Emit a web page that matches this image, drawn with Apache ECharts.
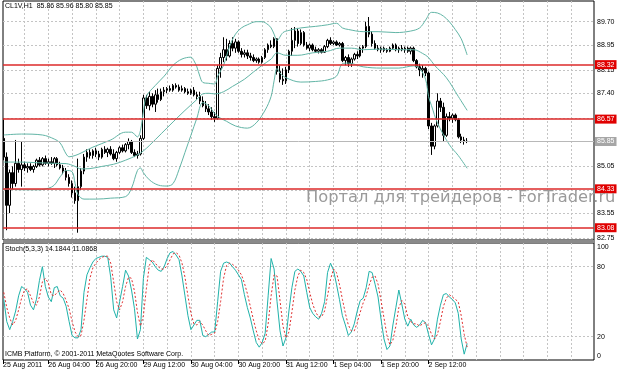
<!DOCTYPE html>
<html><head><meta charset="utf-8">
<script src="https://cdn.jsdelivr.net/npm/echarts@6/dist/echarts.min.js"></script>
<style>html,body{margin:0;padding:0;background:#fff}#c{width:623px;height:373px}</style>
</head><body><div id="c"></div>
<script>
// ---------- data ----------
const headerText = 'CL1V,H1  85.86 85.96 85.80 85.85';
const stochText = 'Stoch(5,3,3) 14.1844 11.0868';
const footerText = 'ICMB Platform, \u00a9 2001-2011 MetaQuotes Software Corp.';
const watermarkText = 'Портал для трейдеров - ForTrader.ru';

const timeLabels = ['25 Aug 2011','26 Aug 04:00','26 Aug 20:00','29 Aug 12:00','30 Aug 04:00','30 Aug 20:00','31 Aug 12:00','1 Sep 04:00','1 Sep 20:00','2 Sep 12:00'];
const labelBars = [0,16,32,48,64,80,96,112,128,144];
const gridBars = [8,16,24,32,40,48,56,64,72,80,88,96,104,112,120,128,136,144,152,160,168,176,184,192];
const priceTicks = [82.75,83.55,84.30,85.05,85.85,86.60,87.40,88.15,88.95,89.70];
const priceLevels = [88.32,86.57,84.33,83.08];
const bidPrice = 85.85;
const stochLevels = [20,80];
const firstBar = 1;

const open = [85.95,85.35,83.80,84.85,84.50,85.15,84.95,85.10,85.00,85.05,
84.95,85.05,85.25,85.10,85.30,85.15,85.20,85.15,85.30,85.10,
85.00,84.90,84.70,84.50,84.20,83.95,84.40,84.90,85.35,85.50,
85.40,85.55,85.45,85.35,85.60,85.50,85.60,85.45,85.30,85.50,
85.65,85.55,85.75,85.85,85.50,85.40,85.45,85.95,87.25,87.00,
87.30,87.05,87.35,87.20,87.45,87.50,87.55,87.50,87.65,87.60,
87.50,87.55,87.45,87.40,87.50,87.35,87.30,87.15,87.00,86.90,
86.80,86.65,86.60,88.20,88.55,88.80,88.60,89.00,88.85,89.05,
88.75,88.65,88.70,88.60,88.55,88.45,88.50,88.40,88.55,88.80,
88.95,88.90,89.15,88.10,87.85,87.80,88.15,88.75,89.10,89.40,
89.00,89.35,88.95,88.85,88.95,88.80,88.75,88.80,88.72,88.90,
89.10,89.00,89.05,88.95,89.00,88.45,88.55,88.35,88.50,88.65,
88.60,88.85,88.90,89.55,89.30,89.00,88.85,88.80,88.85,88.78,
88.75,88.85,88.95,88.80,88.85,88.80,88.85,88.75,88.85,88.45,
88.25,88.15,88.20,88.05,86.35,85.70,86.35,87.15,86.95,86.05,
86.65,86.60,86.70,86.55,86.00,85.90,85.86];
const high = [86.60,85.50,84.95,85.05,85.90,85.30,85.85,85.20,85.15,85.15,
85.10,85.30,85.35,85.35,85.40,85.30,85.35,85.35,85.35,85.20,
85.10,85.00,84.80,84.60,84.40,85.30,85.00,85.45,85.60,85.60,
85.60,85.65,85.55,85.65,85.70,85.65,85.70,85.60,85.55,85.70,
85.75,85.80,85.95,85.90,85.60,85.55,86.05,87.35,87.35,87.45,
87.40,87.50,87.55,87.55,87.60,87.60,87.65,87.70,87.72,87.68,
87.65,87.60,87.55,87.55,87.60,87.45,87.45,87.30,87.15,87.05,
86.95,86.80,88.30,88.70,89.20,89.15,89.10,89.20,89.15,89.10,
88.85,88.80,88.80,88.70,88.65,88.55,88.55,88.60,88.85,89.00,
89.10,89.20,89.17,88.30,88.20,88.25,88.80,89.50,89.53,89.50,
89.45,89.40,89.05,89.00,89.00,88.90,88.85,88.85,88.95,89.15,
89.20,89.10,89.10,89.05,89.05,88.60,88.65,88.55,88.70,88.75,
88.90,88.95,89.70,89.85,89.40,89.10,88.95,88.90,88.90,88.85,
88.90,89.00,89.00,88.90,88.95,88.90,88.90,88.90,88.90,88.50,
88.35,88.30,88.25,88.10,86.45,86.40,87.40,87.25,87.10,86.75,
86.80,86.75,86.75,86.60,86.10,86.00,85.96];
const low = [85.25,83.00,83.55,84.30,84.40,84.85,84.40,84.90,84.85,84.90,
84.85,85.00,85.05,85.05,85.10,85.05,85.10,85.00,85.05,84.95,
84.80,84.60,84.40,84.05,83.85,82.92,84.30,84.80,85.20,85.30,
85.30,85.35,85.25,85.30,85.45,85.35,85.40,85.25,85.20,85.45,
85.50,85.50,85.60,85.45,85.35,85.30,85.40,85.90,86.90,86.85,
86.95,86.80,87.10,87.15,87.30,87.40,87.45,87.45,87.55,87.45,
87.45,87.40,87.35,87.35,87.30,87.20,87.05,86.95,86.80,86.70,
86.55,86.48,86.55,87.90,88.40,88.45,88.55,88.75,88.70,88.70,
88.55,88.55,88.50,88.45,88.40,88.38,88.35,88.35,88.50,88.70,
88.85,88.85,88.00,87.75,87.67,87.70,88.05,88.60,88.85,88.90,
88.95,88.90,88.80,88.75,88.75,88.70,88.68,88.68,88.70,88.85,
88.95,88.95,88.92,88.90,88.40,88.30,88.25,88.25,88.45,88.50,
88.55,88.70,88.85,89.20,88.90,88.80,88.75,88.70,88.72,88.70,
88.72,88.80,88.75,88.70,88.75,88.70,88.70,88.65,88.40,88.20,
87.95,87.90,87.95,86.25,85.42,85.60,86.30,86.80,85.84,86.00,
86.50,86.45,86.50,85.95,85.80,85.75,85.80];
const close = [85.35,83.80,84.85,84.50,85.15,84.95,85.10,85.00,85.05,84.95,
85.05,85.25,85.10,85.30,85.15,85.20,85.15,85.30,85.10,85.00,
84.90,84.70,84.50,84.20,83.95,84.40,84.90,85.35,85.50,85.40,
85.55,85.45,85.35,85.60,85.50,85.60,85.45,85.30,85.50,85.65,
85.55,85.75,85.85,85.50,85.40,85.45,85.95,87.25,87.00,87.30,
87.05,87.35,87.20,87.45,87.50,87.55,87.50,87.65,87.60,87.50,
87.55,87.45,87.40,87.50,87.35,87.30,87.15,87.00,86.90,86.80,
86.65,86.60,88.20,88.55,88.80,88.60,89.00,88.85,89.05,88.75,
88.65,88.70,88.60,88.55,88.45,88.50,88.40,88.55,88.80,88.95,
88.90,89.15,88.10,87.85,87.80,88.15,88.75,89.10,89.40,89.00,
89.35,88.95,88.85,88.95,88.80,88.75,88.80,88.72,88.90,89.10,
89.00,89.05,88.95,89.00,88.45,88.55,88.35,88.50,88.65,88.60,
88.85,88.90,89.55,89.30,89.00,88.85,88.80,88.85,88.78,88.75,
88.85,88.95,88.80,88.85,88.80,88.85,88.75,88.85,88.45,88.25,
88.15,88.20,88.05,86.35,85.70,86.35,87.15,86.95,86.05,86.65,
86.60,86.70,86.55,86.00,85.90,85.86,85.85];

// Bollinger bands: [bar, price]
const bbUpper = [[1,86.06],[7,86.09],[14,86.06],[18,85.93],[20,85.80],[22,85.45],[23,85.36],[25,85.40],[27,85.48],[31,85.67],[37,85.90],[42,86.15],[44,86.15],[46,86.00],[47,86.20],[48,86.80],[49,87.30],[52,87.65],[55,87.95],[58,88.30],[61,88.50],[64,88.56],[65,88.45],[66,88.25],[67,87.95],[68,87.75],[70,87.72],[72,87.70],[73,87.95],[75,88.30],[77,88.90],[79,89.30],[81,89.50],[83,89.60],[86,89.70],[88,89.70],[90,89.60],[91,89.50],[92,89.30],[93,89.10],[95,89.35],[97,89.42],[101,89.50],[106,89.55],[110,89.60],[113,89.65],[115,89.50],[117,89.45],[122,89.38],[127,89.38],[133,89.35],[138,89.40],[141,89.50],[143,89.75],[145,90.00],[147,89.98],[149,89.88],[151,89.70],[153,89.45],[155,89.15],[157,88.63]];
const bbMiddle = [[1,85.19],[7,85.19],[12,85.17],[18,85.15],[22,85.14],[25,85.05],[27,84.97],[30,84.98],[34,85.05],[38,85.12],[42,85.25],[46,85.42],[48,85.55],[50,85.72],[54,86.10],[58,86.48],[62,86.85],[66,87.20],[68,87.38],[70,87.40],[72,87.38],[75,87.45],[78,87.62],[82,87.85],[85,88.08],[88,88.30],[91,88.50],[93,88.70],[96,88.62],[100,88.62],[105,88.70],[110,88.75],[114,88.85],[118,88.85],[122,88.80],[128,88.82],[134,88.80],[139,88.80],[142,88.68],[144,88.55],[146,88.30],[150,87.90],[154,87.30],[157,86.85]];
const bbLower = [[1,84.32],[8,84.30],[13,84.30],[16,84.35],[18,84.45],[20,84.72],[22,84.92],[24,84.88],[25,84.50],[26,84.15],[28,84.00],[32,84.00],[37,84.03],[42,84.08],[44,84.35],[46,84.92],[47,85.00],[48,84.85],[50,84.62],[53,84.45],[56,84.42],[58,84.50],[60,84.95],[62,85.50],[64,86.05],[66,86.60],[68,87.10],[70,87.00],[72,86.75],[74,86.60],[76,86.50],[79,86.35],[83,86.28],[86,86.45],[89,86.86],[91,87.30],[92,87.80],[93,88.20],[94,88.05],[96,87.90],[101,87.76],[106,87.78],[110,87.83],[113,87.95],[115,88.35],[117,88.37],[122,88.25],[128,88.21],[134,88.21],[139,88.28],[141,88.20],[143,87.85],[144,87.30],[145,87.00],[147,86.45],[151,85.75],[154,85.40],[157,84.99]];

// Stochastic %K and %D, one value per bar
const stochK = [52,33,26,33,42,55,63,61,58,47,43,52,68,80,63,54,50,62,63,55,
53,46,33,21,19,19,26,58,73,79,84,87,88,89,89,88,71,43,36,50,
63,77,72,60,44,18,26,70,88,86,84,80,77,76,80,87,92,93,90,86,
72,55,38,26,30,34,34,21,20,22,24,24,50,76,83,84,83,80,77,73,
69,56,45,36,25,15,11,15,23,55,87,78,50,25,12,19,42,62,76,78,
76,72,58,45,40,37,35,40,50,75,83,77,65,52,38,30,21,24,31,42,
51,53,62,76,75,65,54,35,18,9,12,30,45,60,48,35,29,35,30,28,
30,34,32,22,13,18,35,47,56,57,54,52,49,40,18,5,14.1844];
const stochD = [58,45,36,30,34,43,53,60,61,55,49,47,54,67,70,66,56,55,58,60,
57,51,44,33,24,20,21,34,52,70,79,83,86,88,89,89,83,67,50,43,
50,63,71,70,59,41,29,38,61,81,86,83,80,78,78,81,86,91,92,90,
83,71,55,40,31,30,33,30,25,21,22,23,33,50,70,81,83,82,80,77,
73,66,57,46,35,25,17,14,16,31,55,73,72,51,29,19,24,41,60,72,
77,75,69,58,48,41,37,37,42,55,69,78,75,65,52,40,30,25,25,32,
41,49,55,64,71,72,65,51,36,21,13,17,29,45,51,48,37,33,31,31,
29,31,32,29,22,18,22,33,46,53,56,54,52,50,38,22,11.0868];

// ---------- chart ----------
const FONT = 'Liberation Sans';
const xMin = 0.74, xMax = 199.7;
const labelTicks = labelBars.map(v => Math.max(v, xMin));
const dotted = {color: '#c4c4c4', width: 1, type: [2, 2]};
const candleData = open.map((o, k) => [firstBar + k, o, close[k], low[k], high[k]]);
const kData = stochK.map((v, k) => [firstBar + k, v]);
const dData = stochD.map((v, k) => [firstBar + k, v]);
const bbColor = '#62b5a6';
const RED = '#dd2a2a';

const baseX = (grid) => ({
  gridIndex: grid, type: 'value', min: xMin, max: xMax,
  axisLine: {show: false}, axisTick: {show: false, customValues: gridBars},
  axisLabel: {show: false}, splitLine: {show: true, lineStyle: dotted}
});
const stochY = (vals, va, split) => ({
  gridIndex: 1, type: 'value', position: 'right', min: 0, max: 100.3,
  axisLine: {show: false}, axisTick: {show: false, customValues: vals},
  axisLabel: {customValues: vals, margin: 3, fontSize: 7, fontFamily: FONT, color: '#000', verticalAlign: va},
  splitLine: {show: split, lineStyle: dotted}
});
const tagLabel = (bg) => ({show: true, position: 'end', distance: 1, formatter: p => p.value.toFixed(2), backgroundColor: bg, color: '#fff', fontSize: 7, fontFamily: FONT, padding: [1, 2, 1, 2]});

const chart = echarts.init(document.getElementById('c'));
chart.setOption({
  animation: false,
  backgroundColor: '#ffffff',
  textStyle: {fontFamily: FONT},
  grid: [
    {left: 3, top: 1, width: 591, height: 239, show: true, borderColor: '#000', borderWidth: 1, backgroundColor: '#fff'},
    {left: 3, top: 243, width: 591, height: 117, show: true, borderColor: '#000', borderWidth: 1, backgroundColor: '#fff'}
  ],
  xAxis: [
    baseX(0),
    baseX(1),
    {
      gridIndex: 1, type: 'value', min: xMin, max: xMax, position: 'bottom',
      axisLine: {show: false},
      axisTick: {show: true, customValues: labelTicks, length: 4, lineStyle: {color: '#000'}},
      axisLabel: {customValues: labelTicks, align: 'left', margin: 2, fontSize: 7, fontFamily: FONT, color: '#000',
        formatter: v => timeLabels[Math.round(v / 16)]},
      splitLine: {show: false}
    }
  ],
  yAxis: [
    {
      gridIndex: 0, type: 'value', position: 'right', min: 82.686, max: 90.365,
      axisLine: {show: false}, axisTick: {show: false, customValues: priceTicks},
      axisLabel: {customValues: priceTicks, margin: 3, fontSize: 7, fontFamily: FONT, color: '#000', formatter: v => v.toFixed(2)},
      splitLine: {show: true, lineStyle: dotted}
    },
    stochY(stochLevels, 'middle', true),
    stochY([100], 'top', false),
    stochY([0], 'bottom', false)
  ],
  series: [
    {
      type: 'line', xAxisIndex: 0, yAxisIndex: 0, data: [], silent: true,
      markLine: {
        silent: true, symbol: ['none', 'none'], animation: false,
        data: [{yAxis: bidPrice, lineStyle: {color: '#b8b8b8', width: 1, type: 'solid'}, label: tagLabel('#a6a6a6')}]
      }
    },
    {
      type: 'line', xAxisIndex: 0, yAxisIndex: 0, data: [], silent: true,
      markLine: {
        silent: true, symbol: ['none', 'none'], animation: false,
        data: priceLevels.map(v => ({yAxis: v, lineStyle: {color: RED, width: 1.5, type: 'solid', opacity: 1}, label: tagLabel('#e00000')}))
      }
    },
    {type: 'line', xAxisIndex: 0, yAxisIndex: 0, data: bbUpper, showSymbol: false, smooth: 0.35, silent: true, lineStyle: {color: bbColor, width: 1}},
    {type: 'line', xAxisIndex: 0, yAxisIndex: 0, data: bbMiddle, showSymbol: false, smooth: 0.35, silent: true, lineStyle: {color: bbColor, width: 1}},
    {type: 'line', xAxisIndex: 0, yAxisIndex: 0, data: bbLower, showSymbol: false, smooth: 0.35, silent: true, lineStyle: {color: bbColor, width: 1}},
    {
      type: 'candlestick', xAxisIndex: 0, yAxisIndex: 0, data: candleData,
      encode: {x: 0, y: [1, 2, 3, 4]}, barWidth: 2, silent: true,
      itemStyle: {color: '#ffffff', color0: '#000000', borderColor: '#000000', borderColor0: '#000000', borderWidth: 1}
    },
    {type: 'line', xAxisIndex: 1, yAxisIndex: 1, data: kData, showSymbol: false, silent: true, lineStyle: {color: '#20b2aa', width: 1}},
    {type: 'line', xAxisIndex: 1, yAxisIndex: 1, data: dData, showSymbol: false, silent: true, lineStyle: {color: '#e03030', width: 1, type: [2, 2]}}
  ],
  graphic: [
    {type: 'rect', shape: {x: 3, y: 240, width: 592, height: 3}, style: {fill: '#8a8a8a'}, z: 10},
    {type: 'text', x: 5, y: 3, style: {text: headerText, font: '7px "Liberation Sans"', fill: '#000'}, z: 10},
    {type: 'text', x: 5, y: 246, style: {text: stochText, font: '7px "Liberation Sans"', fill: '#000'}, z: 10},
    {type: 'text', x: 5, y: 351, style: {text: footerText, font: '7px "Liberation Sans"', fill: '#000'}, z: 10},
    {type: 'text', x: 306, y: 197.5, style: {text: watermarkText, font: '16.3px "DejaVu Sans"', fill: '#9a9a9a', verticalAlign: 'middle'}, z: 20}
  ]
});
</script>
</body></html>
